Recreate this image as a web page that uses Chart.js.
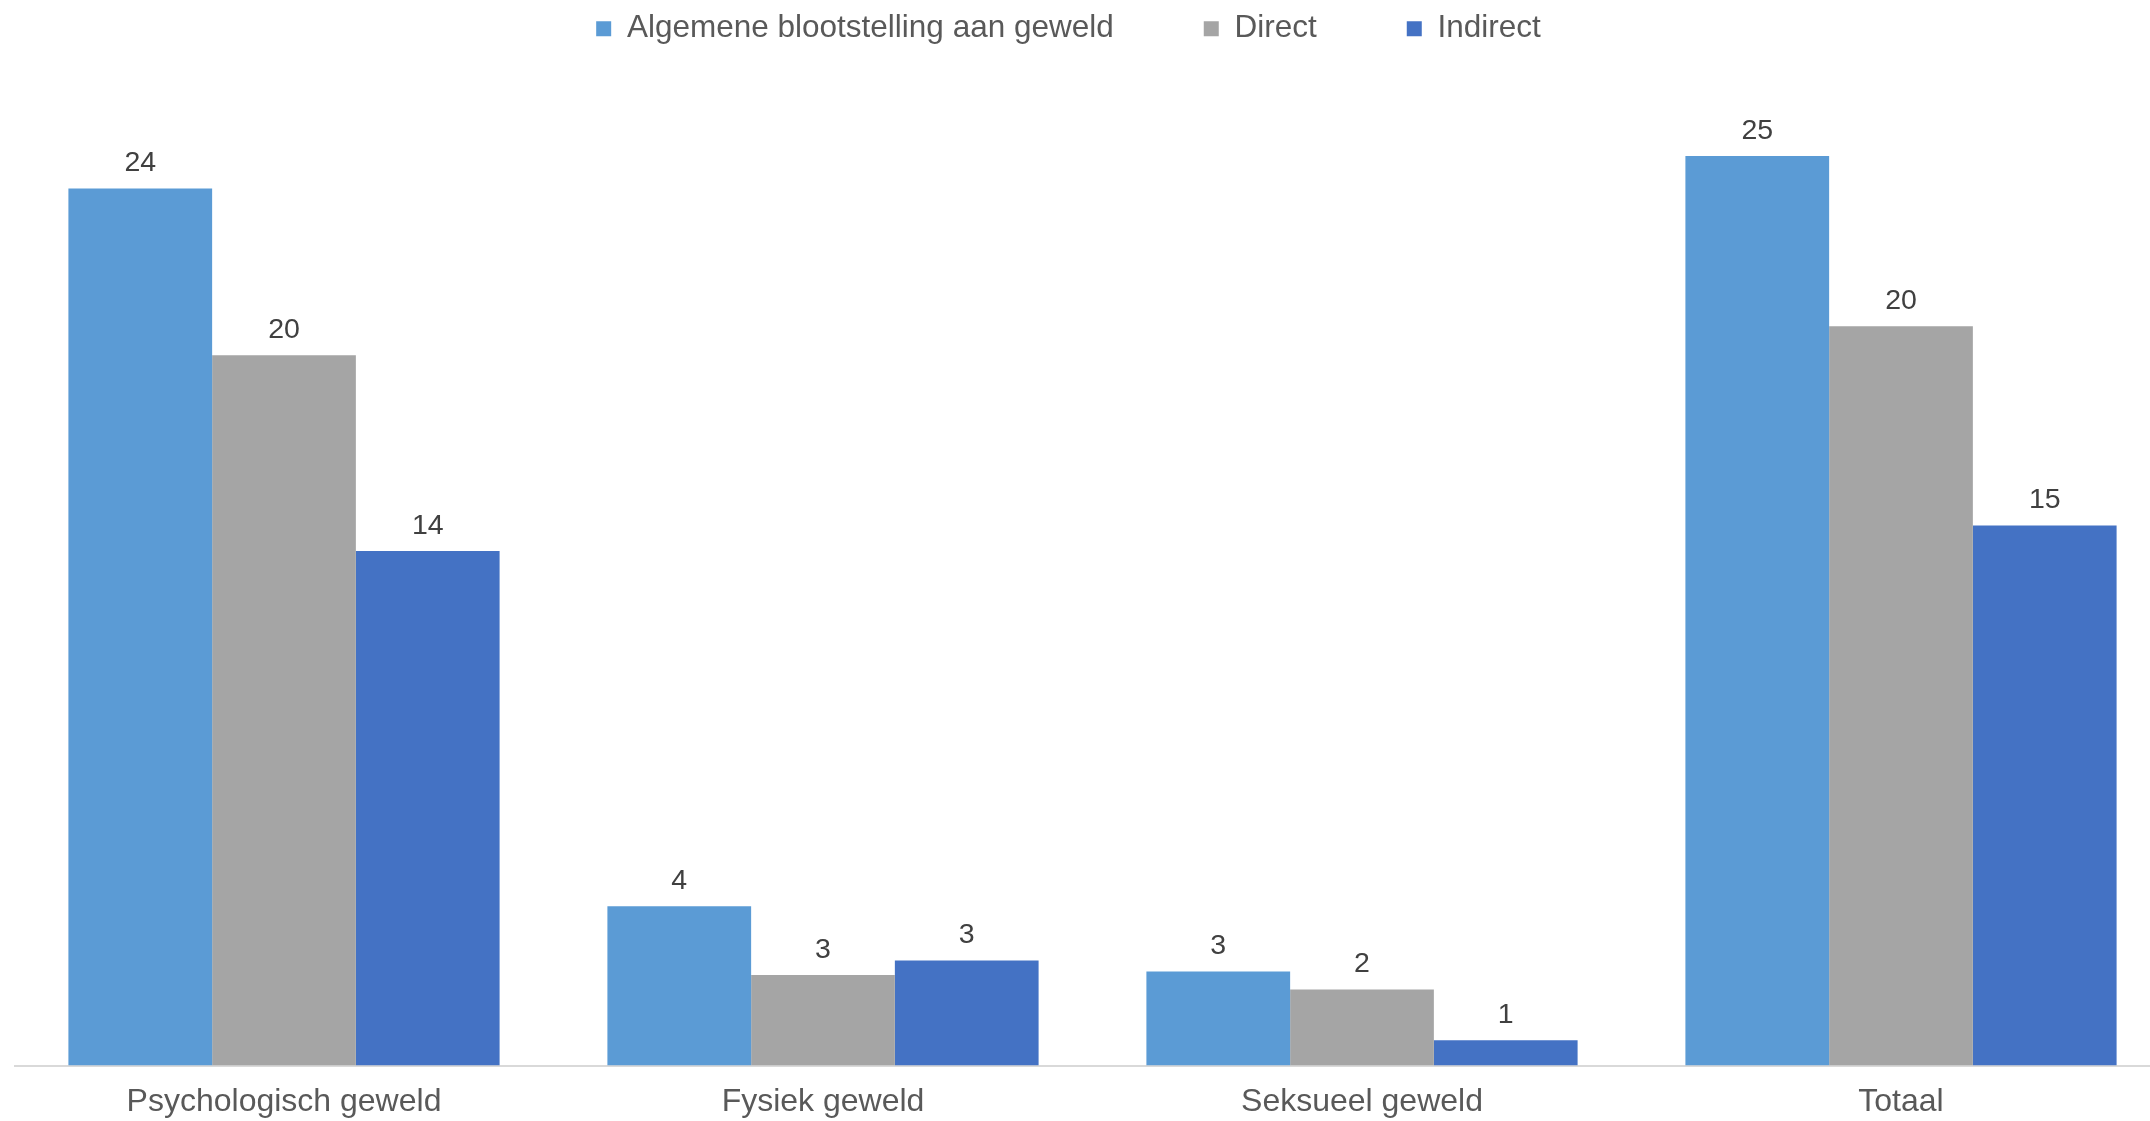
<!DOCTYPE html>
<html lang="nl">
<head>
<meta charset="utf-8">
<title>Blootstelling aan geweld</title>
<script src="https://cdn.jsdelivr.net/npm/chart.js@4.4.1/dist/chart.umd.min.js"></script>
<style>
  html, body { margin:0; padding:0; background:#fff; overflow:hidden; }
  #wrap { width:2172px; height:1121px; position:relative; }
</style>
</head>
<body>
<div id="wrap"><canvas id="chart"></canvas></div>
<script>
// categorieen en reeksen
const categories = ["Psychologisch geweld", "Fysiek geweld", "Seksueel geweld", "Totaal"];
const seriesNames = ["Algemene blootstelling aan geweld", "Direct", "Indirect"];
const algemeen = [24.2, 4.4, 2.6, 25.1];
const direct   = [19.6, 2.5, 2.1, 20.4];
const indirect = [14.2, 2.9, 0.7, 14.9];
const colors = ["#5B9BD5", "#A5A5A5", "#4472C4"];

const FONT = "'Liberation Sans', Arial, sans-serif";

// -- waarden boven de staven (afgerond)
const barLabels = {
  id: "barLabels",
  afterDatasetsDraw(chart) {
    const ctx = chart.ctx;
    ctx.save();
    ctx.font = "28.5px " + FONT;
    ctx.fillStyle = "#404040";
    ctx.textAlign = "center";
    ctx.textBaseline = "middle";
    chart.data.datasets.forEach((ds, di) => {
      chart.getDatasetMeta(di).data.forEach((bar, i) => {
        ctx.fillText(Math.round(ds.data[i]).toString(), bar.x, bar.y - 25);
      });
    });
    ctx.restore();
  }
};

// legenda iets naar links schuiven
const legendShift = {
  id: "legendShift",
  afterLayout(chart) {
    if (!chart.legend) return;
    chart.legend.left -= 24;
    chart.legend.right -= 24;
  }
};

new Chart(document.getElementById("chart"), {
  type: "bar",
  data: {
    labels: categories,
    datasets: [
      { label: seriesNames[0], data: algemeen, backgroundColor: colors[0], borderWidth: 0 },
      { label: seriesNames[1], data: direct,   backgroundColor: colors[1], borderWidth: 0 },
      { label: seriesNames[2], data: indirect, backgroundColor: colors[2], borderWidth: 0 }
    ]
  },
  options: {
    responsive: true,
    maintainAspectRatio: false,
    animation: false,
    layout: { padding: { left: 14.5, right: 1.5, top: -77, bottom: -17 } },
    datasets: { bar: { categoryPercentage: 0.8, barPercentage: 1.0 } },
    scales: {
      x: {
        grid: { display: false, drawTicks: false },
        border: { display: true, color: "#D9D9D9", width: 2 },
        ticks: { color: "#595959", font: { family: FONT, size: 32 }, padding: 17 }
      },
      y: { display: false, min: 0, max: 27.9 }
    },
    plugins: {
      legend: {
        position: "top",
        labels: {
          color: "#595959",
          font: { family: FONT, size: 31.5 },
          boxWidth: 15,
          boxHeight: 15,
          padding: 90
        }
      },
      tooltip: { enabled: false }
    }
  },
  plugins: [barLabels, legendShift]
});
</script>
</body>
</html>
